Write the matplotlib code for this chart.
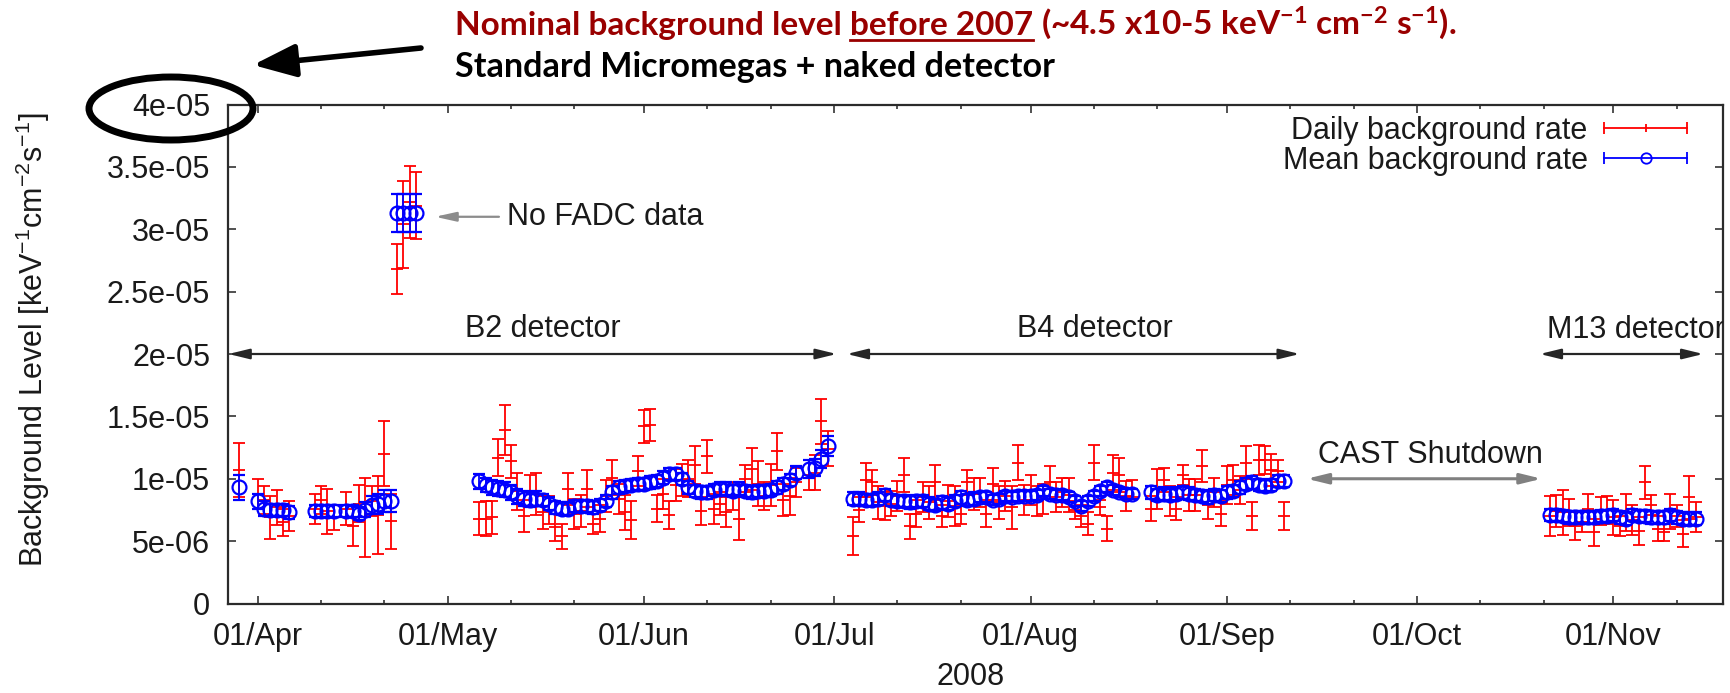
import numpy as np
import matplotlib.pyplot as plt
import matplotlib.dates as mdates
from matplotlib.patches import Ellipse, FancyArrowPatch
from matplotlib.lines import Line2D
from matplotlib.legend_handler import HandlerBase
from datetime import datetime, timedelta

plt.rcParams['font.family'] = ['Liberation Sans', 'DejaVu Sans']
plt.rcParams['mathtext.default'] = 'regular'

FS = 22          # chart text size (pt)
W, H = 1731, 693  # output size in pixels

# data taking periods: first day and number of consecutive days
run_start = ["2008-03-29", "2008-04-01", "2008-04-10", "2008-04-15", "2008-05-06",
             "2008-06-27", "2008-07-04", "2008-08-20", "2008-10-22"]
run_days = [1, 6, 4, 12, 51, 4, 45, 22, 24]

# daily background rate, units of 1e-6 keV-1 cm-2 s-1
daily = [10.7,
         8.8, 8.3, 6.9, 7.7, 6.5, 7.0,
         7.6, 8.3, 7.4, 6.9,
         7.6, 6.2, 8.0, 6.9, 8.2, 7.1, 12.0, 6.6, 26.8, 30.4, 32.2, 31.9,
         6.8, 6.8, 6.9, 11.7, 13.9, 11.4, 9.0, 7.0, 9.0, 8.8,
         7.3, 7.5, 6.1, 5.4, 9.2, 7.2, 7.4, 9.2, 6.4, 6.8,
         8.6, 10.1, 8.4, 7.3, 6.7, 10.6, 14.2, 14.3, 7.6, 8.8,
         7.1, 9.5, 9.9, 10.0, 11.1, 7.4, 11.8, 7.6, 8.0, 7.3,
         8.6, 6.8, 10.0, 10.8, 9.6, 8.6, 9.5, 12.2, 8.3, 8.6, 9.7,
         10.3, 10.5, 14.6, 12.4,
         5.4, 7.5, 9.9, 9.7, 8.1, 7.8, 8.0, 8.6, 10.3, 6.2,
         7.2, 8.5, 8.1, 9.7, 7.0, 8.2, 7.8, 7.2, 9.7, 8.8,
         8.9, 7.2, 9.6, 8.1, 8.6, 7.7, 11.3, 8.3, 9.1, 8.2,
         8.4, 9.7, 8.5, 8.9, 8.7, 7.5, 7.0, 6.4, 11.3, 7.7,
         6.0, 10.5, 10.3, 8.6, 9.2,
         7.6, 9.2, 9.9, 8.2, 7.6, 10.3, 8.7, 8.7, 11.0, 7.9, 8.9,
         7.2, 9.5, 9.9, 9.1, 11.3, 7.0, 11.5, 11.5, 10.7, 10.6, 7.0,
         7.0, 7.4, 7.3, 7.3, 6.2, 6.5, 7.6, 5.7, 7.4, 7.5, 6.9, 6.2,
         7.3, 6.7, 5.8, 9.7, 7.9, 6.0, 5.7, 7.4, 7.0, 5.6, 8.5, 6.9]
daily_err = [2.2,
             1.2, 1.1, 1.7, 1.4, 1.1, 1.2,
             1.2, 1.1, 1.8, 1.0,
             1.3, 1.6, 1.5, 3.2, 1.2, 3.1, 2.6, 2.2, 2.0, 3.5, 2.9, 2.7,
             1.3, 1.4, 1.3, 1.5, 2.0, 1.3, 1.5, 1.3, 1.3, 1.7,
             1.3, 1.1, 1.1, 1.0, 1.3, 1.2, 1.3, 1.5, 0.8, 1.1,
             1.3, 1.4, 1.2, 1.4, 1.5, 1.2, 1.3, 1.3, 1.1, 1.2,
             1.1, 1.3, 1.3, 1.5, 1.5, 1.1, 1.3, 1.2, 0.9, 1.2,
             1.1, 1.7, 1.1, 1.7, 1.8, 1.1, 1.7, 1.5, 1.3, 1.5, 1.2,
             1.2, 1.4, 1.8, 1.4,
             1.5, 1.0, 1.4, 1.0, 1.3, 1.1, 1.0, 1.2, 1.4, 1.0,
             1.1, 1.2, 1.3, 1.4, 0.9, 1.3, 1.6, 0.8, 1.0, 1.3,
             1.2, 1.1, 1.3, 1.3, 1.2, 1.7, 1.4, 1.2, 1.2, 1.2,
             1.2, 1.3, 1.2, 1.2, 1.4, 0.7, 0.9, 0.9, 1.4, 0.6,
             1.0, 1.4, 1.4, 1.2, 0.7,
             1.0, 1.6, 1.0, 1.2, 0.9, 0.8, 1.3, 1.3, 1.3, 1.1, 1.2,
             1.0, 1.5, 1.2, 1.1, 1.3, 1.1, 1.2, 1.1, 1.3, 0.9, 1.1,
             1.6, 1.3, 1.8, 1.1, 1.1, 0.8, 1.2, 1.1, 1.1, 1.1, 1.4, 0.8,
             1.5, 1.2, 1.1, 1.3, 0.8, 1.0, 0.7, 1.4, 0.9, 1.1, 1.7, 1.2]

# mean background rate, same units
mean = [9.3,
        8.2, 7.6, 7.5, 7.5, 7.5, 7.3,
        7.4, 7.4, 7.4, 7.4,
        7.4, 7.4, 7.2, 7.5, 7.9, 8.0, 8.2, 8.2, 31.3, 31.3, 31.3, 31.3,
        9.8, 9.5, 9.3, 9.2, 9.1, 8.9, 8.6, 8.4, 8.3, 8.4,
        8.3, 8.0, 7.7, 7.6, 7.6, 7.8, 7.8, 7.8, 7.7, 7.9,
        8.2, 8.9, 9.3, 9.4, 9.5, 9.6, 9.6, 9.7, 9.8, 10.1,
        10.4, 10.4, 10.0, 9.3, 9.0, 8.9, 8.9, 9.1, 9.2, 9.2,
        9.0, 9.2, 9.0, 8.9, 9.0, 9.0, 9.1, 9.3, 9.6, 9.9, 10.5,
        10.8, 10.9, 11.6, 12.6,
        8.4, 8.4, 8.3, 8.3, 8.4, 8.7, 8.3, 8.2, 8.2, 8.1,
        8.2, 8.2, 8.0, 7.9, 8.1, 8.0, 8.2, 8.5, 8.3, 8.4,
        8.5, 8.5, 8.3, 8.4, 8.6, 8.5, 8.6, 8.6, 8.6, 8.7,
        9.0, 8.8, 8.7, 8.7, 8.5, 8.2, 7.8, 8.2, 8.6, 9.0,
        9.3, 9.1, 8.9, 8.8, 8.8,
        8.9, 8.7, 8.8, 8.7, 8.8, 8.9, 8.8, 8.7, 8.6, 8.5, 8.7,
        8.6, 8.9, 9.0, 9.3, 9.6, 9.7, 9.5, 9.4, 9.5, 9.8, 9.8,
        7.1, 7.1, 7.0, 6.9, 6.9, 6.9, 6.9, 6.9, 7.0, 7.0, 7.1, 6.9,
        6.8, 7.1, 7.0, 7.0, 6.9, 6.9, 6.9, 7.1, 6.9, 6.8, 6.8, 6.8]
mean_err = [1.0,
            0.6, 0.6, 0.5, 0.5, 0.5, 0.5,
            0.5, 0.5, 0.5, 0.5,
            0.5, 0.5, 0.5, 0.6, 0.7, 0.8, 0.9, 0.9, 1.5, 1.5, 1.5, 1.5,
            0.6, 0.6, 0.6, 0.6, 0.6, 0.6, 0.6, 0.6, 0.6, 0.6,
            0.5, 0.5, 0.5, 0.5, 0.5, 0.5, 0.5, 0.5, 0.5, 0.5,
            0.5, 0.5, 0.5, 0.5, 0.5, 0.5, 0.5, 0.5, 0.5, 0.5,
            0.5, 0.5, 0.5, 0.5, 0.5, 0.5, 0.5, 0.5, 0.5, 0.5,
            0.5, 0.5, 0.5, 0.5, 0.5, 0.5, 0.5, 0.5, 0.5, 0.5, 0.5,
            0.7, 0.7, 0.7, 0.8,
            0.5, 0.5, 0.5, 0.5, 0.5, 0.5, 0.5, 0.5, 0.5, 0.5,
            0.5, 0.5, 0.5, 0.5, 0.5, 0.5, 0.5, 0.5, 0.5, 0.5,
            0.4, 0.4, 0.4, 0.4, 0.4, 0.4, 0.4, 0.4, 0.4, 0.4,
            0.4, 0.4, 0.4, 0.4, 0.4, 0.4, 0.4, 0.4, 0.4, 0.4,
            0.4, 0.4, 0.4, 0.4, 0.4,
            0.5, 0.5, 0.5, 0.5, 0.5, 0.5, 0.5, 0.5, 0.5, 0.5, 0.5,
            0.5, 0.5, 0.5, 0.5, 0.5, 0.5, 0.5, 0.5, 0.5, 0.5, 0.5,
            0.5, 0.5, 0.5, 0.5, 0.5, 0.5, 0.5, 0.5, 0.5, 0.5, 0.5, 0.5,
            0.5, 0.5, 0.5, 0.5, 0.5, 0.5, 0.5, 0.5, 0.5, 0.5, 0.5, 0.5]

yticks = [0, 5e-6, 1e-5, 1.5e-5, 2e-5, 2.5e-5, 3e-5, 3.5e-5, 4e-5]
ytick_labels = ["0", "5e-06", "1e-05", "1.5e-05", "2e-05", "2.5e-05", "3e-05", "3.5e-05", "4e-05"]

dates = []
for start, n in zip(run_start, run_days):
    d0 = datetime.strptime(start, "%Y-%m-%d")
    dates += [d0 + timedelta(days=i) for i in range(n)]

daily = np.array(daily) * 1e-6
daily_err = np.array(daily_err) * 1e-6
mean = np.array(mean) * 1e-6
mean_err = np.array(mean_err) * 1e-6

fig = plt.figure(figsize=(W / 100, H / 100), dpi=100)
ax = fig.add_axes([228.3 / W, 1 - 603.5 / H, 1494.4 / W, 499 / H])

ax.errorbar(dates, daily, yerr=daily_err, fmt='_', color='#ff0000', ms=8, mew=1.3,
            elinewidth=1.3, capsize=4, capthick=1.3, zorder=2)
ax.errorbar(dates, mean, yerr=mean_err, fmt='o', color='#0000ff', mfc='none', ms=10,
            mew=1.6, elinewidth=1.3, capsize=4, capthick=1.3, zorder=3)

# x range: 27 Mar to 18 Nov 2008
apr1 = mdates.date2num(datetime(2008, 4, 1))
ax.set_xlim(apr1 - 4.64, apr1 + 231.27)
ax.set_ylim(0, 4e-5)
ax.set_yticks(yticks)
ax.set_yticklabels(ytick_labels)
ax.xaxis.set_major_locator(mdates.MonthLocator())
ax.xaxis.set_minor_locator(mdates.DayLocator(bymonthday=[11, 21]))
ax.xaxis.set_major_formatter(mdates.DateFormatter('%d/%b'))

ax.tick_params(which='both', direction='in', top=True, right=True, width=1.1,
               color='#222222', labelsize=FS, labelcolor='#1a1a1a', pad=13)
ax.tick_params(which='major', length=5.8)
ax.tick_params(which='minor', length=2.9)
for sp in ax.spines.values():
    sp.set_linewidth(1.6)
    sp.set_color('#2b2b2b')

ax.set_xlabel('2008', fontsize=FS, color='#1a1a1a', va='center')
ax.xaxis.set_label_coords(0.497, -0.147)
ax.set_ylabel('Background Level [keV$^{-1}$cm$^{-2}$s$^{-1}$]', fontsize=FS,
              color='#1a1a1a', va='center')
ax.yaxis.set_label_coords(-0.1307, 0.528)


class ErrorbarKey(HandlerBase):
    # horizontal bar with end caps and the point symbol in the middle
    def create_artists(self, legend, orig_handle, xdescent, ydescent, width, height,
                       fontsize, trans):
        y = height / 2 - ydescent
        x0 = -xdescent
        x1 = x0 + width
        c = orig_handle.get_color()
        bar = Line2D([x0, x1], [y, y], color=c, lw=1.3)
        caps = Line2D([x0, x1], [y, y], ls='none', marker='|', ms=8, mew=1.3, color=c)
        mid = Line2D([(x0 + x1) / 2], [y], ls='none', marker=orig_handle.get_marker(),
                     ms=orig_handle.get_markersize(), mew=1.3, mfc='none', mec=c)
        for a in (bar, caps, mid):
            a.set_transform(trans)
        return [bar, caps, mid]


key_daily = Line2D([], [], color='#ff0000', marker='|', ms=5.5)
key_mean = Line2D([], [], color='#0000ff', marker='o', ms=7.5)
ax.legend([key_daily, key_mean], ['Daily background rate', 'Mean background rate'],
          handler_map={Line2D: ErrorbarKey()}, loc='upper right',
          bbox_to_anchor=(0.976, 0.977), frameon=False, markerfirst=False,
          handlelength=2.7, handletextpad=0.55, labelspacing=0.0, borderpad=0,
          borderaxespad=0, fontsize=FS, labelcolor='#1a1a1a')


def span_arrow(d0, d1, y, color, lw):
    ax.annotate('', xy=(apr1 + d1, y), xytext=(apr1 + d0, y),
                arrowprops=dict(arrowstyle='<|-|>,head_length=0.9,head_width=0.22',
                                color=color, lw=lw, shrinkA=0, shrinkB=0,
                                mutation_scale=14))


# detector periods and the shutdown (offsets in days from 1 April)
span_arrow(-4.6, 91.4, 2e-5, '#262626', 1.6)
span_arrow(93.0, 164.5, 2e-5, '#262626', 1.6)
span_arrow(202.4, 228.2, 2e-5, '#262626', 1.6)
span_arrow(165.6, 202.7, 1e-5, '#808080', 2.2)
ax.text(apr1 + 45.0, 22.0e-6, 'B2 detector', fontsize=FS, ha='center', va='center',
        color='#1a1a1a')
ax.text(apr1 + 132.2, 22.0e-6, 'B4 detector', fontsize=FS, ha='center', va='center',
        color='#1a1a1a')
ax.text(apr1 + 203.5, 21.9e-6, 'M13 detector', fontsize=FS, ha='left', va='center',
        color='#1a1a1a', clip_on=True)
ax.text(apr1 + 185.2, 11.9e-6, 'CAST Shutdown', fontsize=FS, ha='center', va='center',
        color='#1a1a1a')

ax.annotate('No FADC data', xy=(apr1 + 28.0, 31.0e-6), xytext=(apr1 + 39.4, 31.0e-6),
            fontsize=FS, ha='left', va='center', color='#1a1a1a',
            arrowprops=dict(arrowstyle='-|>,head_length=0.9,head_width=0.2',
                            color='#8c8c8c', lw=1.6, shrinkA=4, shrinkB=0,
                            mutation_scale=14))

# slide caption above the plot
hfont = ['Lato', 'DejaVu Sans']
HS = 24
dark_red = '#990000'
base1 = 1 - 35 / H
base2 = 1 - 77 / H
t1 = fig.text(455 / W, base1, 'Nominal background level ', fontsize=HS, fontweight='bold',
              family=hfont, color=dark_red, va='baseline')
t2 = ax.annotate('before 2007', xy=(1, base1), xycoords=(t1, 'figure fraction'),
                 fontsize=HS, fontweight='bold', family=hfont, color=dark_red,
                 va='baseline', ha='left')
t3 = ax.annotate(' (~4.5 x10-5 keV$^{-1}$ cm$^{-2}$ s$^{-1}$).', xy=(1, base1),
                 xycoords=(t2, 'figure fraction'), fontsize=HS, fontweight='bold',
                 family=hfont, color=dark_red, va='baseline', ha='left')
fig.text(455 / W, base2, 'Standard Micromegas + naked detector', fontsize=24.6,
         fontweight='bold', family=hfont, color='black', va='baseline')

fig.canvas.draw()
bb = t2.get_window_extent()
fig.add_artist(Line2D([bb.x0 / W, bb.x1 / W], [1 - 39.5 / H] * 2, transform=fig.transFigure,
                      color=dark_red, lw=2))

fig.add_artist(Ellipse((171 / W, 1 - 108.5 / H), 164 / W, 63 / H, transform=fig.transFigure,
                       fill=False, lw=5, color='black'))
fig.add_artist(FancyArrowPatch((421 / W, 1 - 48 / H), (253 / W, 1 - 65 / H),
                               transform=fig.transFigure, color='black', lw=4,
                               arrowstyle='-|>,head_length=1.3,head_width=0.5',
                               mutation_scale=20, shrinkA=0, shrinkB=0))

fig.savefig('out.png', dpi=100)
